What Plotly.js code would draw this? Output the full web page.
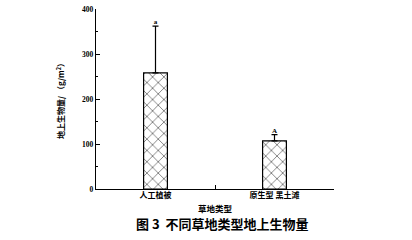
<!DOCTYPE html>
<html><head><meta charset="utf-8">
<script src="https://cdn.plot.ly/plotly-3.0.1.min.js"></script>
<style>html,body{margin:0;padding:0;background:#fff}#c{width:412px;height:240px}</style>
</head><body><div id="c"></div>
<script>
const categories = ['人工植被', '原生型 黑土滩'];
const biomass = [258, 107];
const errPlus = [104, 14];
const sigLetters = ['a', 'A'];
const xTitle = '草地类型';
const yTitle = '地上生物量/ （g/m<sup>2</sup>）';
const figTitle = '图 3  不同草地类型地上生物量';

const xpos = categories.map((c, i) => i);
const boundaries = [-0.5, 0.5, 1.5];
const tops = biomass.map((v, i) => v + errPlus[i]);

const traces = [
  {
    type: 'bar', x: xpos, y: biomass, width: 0.2,
    marker: {color: '#fff', line: {color: '#000', width: 1.2},
      pattern: {shape: 'x', size: 8, solidity: 0.22, fgcolor: '#000', bgcolor: '#fff', fillmode: 'overlay'}},
    error_y: {type: 'data', symmetric: false, array: errPlus, arrayminus: [0, 0], color: '#000', thickness: 1.2, width: 3},
    hoverinfo: 'skip'
  },
  {
    type: 'scatter', mode: 'text', x: xpos, y: tops, text: sigLetters,
    textposition: 'top center', cliponaxis: false,
    textfont: {family: 'Liberation Serif', size: 7, color: '#000', weight: 'bold'},
    hoverinfo: 'skip'
  },
  {
    type: 'scatter', mode: 'markers', x: xpos, y: [0, 0], xaxis: 'x2', yaxis: 'y',
    marker: {opacity: 0, size: 1}, hoverinfo: 'skip'
  }
];

const layout = {
  width: 412, height: 240,
  margin: {l: 96, r: 78, t: 9, b: 51},
  paper_bgcolor: '#fff', plot_bgcolor: '#fff',
  showlegend: false,
  xaxis: {
    range: [-0.5, 1.5], tickmode: 'array', tickvals: boundaries, showticklabels: false,
    showline: true, linecolor: '#000', linewidth: 1.2,
    ticks: 'inside', ticklen: 4, tickcolor: '#000', tickwidth: 1,
    showgrid: false, zeroline: false,
    fixedrange: true
  },
  xaxis2: {
    overlaying: 'x', anchor: 'y', side: 'bottom',
    range: [-0.5, 1.5], tickmode: 'array', tickvals: xpos, ticktext: categories,
    showline: false, ticks: '', showgrid: false, zeroline: false,
    tickfont: {family: 'Noto Sans CJK SC', size: 8, color: '#000', weight: 'bold'},
    fixedrange: true
  },
  yaxis: {
    range: [0, 400], dtick: 100, tick0: 0,
    showline: true, linecolor: '#000', linewidth: 1.2,
    ticks: 'inside', ticklen: 4, tickcolor: '#000',
    minor: {ticks: 'inside', dtick: 50, ticklen: 2, tickcolor: '#000'},
    showgrid: false, zeroline: false,
    tickfont: {family: 'Liberation Serif', size: 7.5, color: '#000', weight: 'bold'},
    fixedrange: true
  },
  annotations: [
    {text: xTitle, xref: 'paper', yref: 'paper', x: 0.5, y: 0, yshift: -19, showarrow: false,
     xanchor: 'center', yanchor: 'middle',
     font: {family: 'Noto Sans CJK SC', size: 8.5, color: '#000', weight: 'bold'}},
    {text: yTitle, xref: 'paper', yref: 'paper', x: 0, xshift: -36, y: 0.5, textangle: -90, showarrow: false,
     xanchor: 'center', yanchor: 'middle',
     font: {family: 'Noto Sans CJK SC', size: 8, color: '#000', weight: 'bold'}},
    {text: figTitle, xref: 'paper', yref: 'paper', x: 0.5, xshift: 7, y: 0, yshift: -34, showarrow: false,
     xanchor: 'center', yanchor: 'middle',
     font: {family: 'Noto Sans CJK SC', size: 13, color: '#000', weight: 'bold'}}
  ]
};

Plotly.newPlot('c', traces, layout, {staticPlot: true, displayModeBar: false});
</script></body></html>
